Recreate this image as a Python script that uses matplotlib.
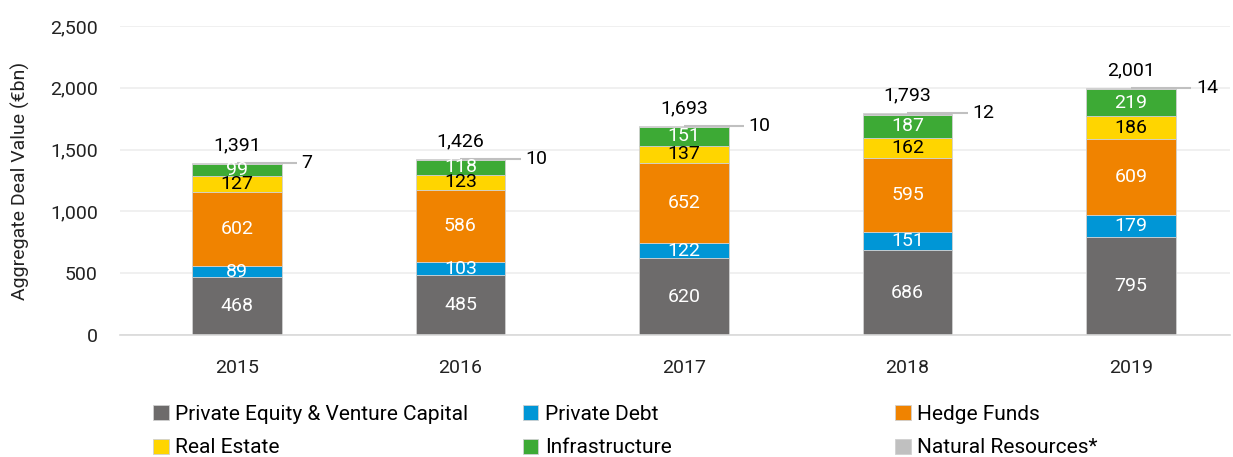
import matplotlib.pyplot as plt
import numpy as np

plt.rcParams['font.family'] = ['Roboto', 'DejaVu Sans']

years = ['2015', '2016', '2017', '2018', '2019']
private_equity = [468, 485, 620, 686, 795]
private_debt = [89, 103, 122, 151, 179]
hedge_funds = [602, 586, 652, 595, 609]
real_estate = [127, 123, 137, 162, 186]
infrastructure = [99, 118, 151, 187, 219]
natural_resources = [7, 10, 10, 12, 14]
totals = [1391, 1426, 1693, 1793, 2001]

series = [
    ('Private Equity & Venture Capital', private_equity, '#6d6b6b', 'white'),
    ('Private Debt', private_debt, '#0096d6', 'white'),
    ('Hedge Funds', hedge_funds, '#f08300', 'white'),
    ('Real Estate', real_estate, '#ffd500', 'black'),
    ('Infrastructure', infrastructure, '#3daa35', 'white'),
    ('Natural Resources*', natural_resources, '#c0c0c0', None),
]

fig = plt.figure(figsize=(12.33, 4.57), dpi=100)
ax = fig.add_axes([0.0973, 0.267, 0.9003, 0.676])

x = np.arange(len(years))
w = 0.4
fs = 14
bottom = np.zeros(len(years))
handles = {}
for name, vals, color, tcol in series:
    vals = np.array(vals, dtype=float)
    b = ax.bar(x, vals, w, bottom=bottom, color=color, edgecolor='#d0d0d0', linewidth=0.6, label=name)
    handles[name] = b
    if tcol is not None:
        for xi, v, bt in zip(x, vals, bottom):
            ax.text(xi, bt + v / 2, f'{int(v):,}', ha='center', va='center', color=tcol, fontsize=fs)
    else:
        # natural resources: thin slice, label pulled out with a leader line
        for xi, v, bt in zip(x, vals, bottom):
            top = bt + v
            ax.plot([xi, xi + w / 2 + 0.07], [top, top], color='#c0c0c0', lw=1.5, solid_capstyle='butt')
            ax.text(xi + w / 2 + 0.09, top, f'{int(v)}', ha='left', va='center', color='black', fontsize=fs)
    bottom += vals

for xi, t, bt in zip(x, totals, bottom):
    ax.text(xi, bt + 70, f'{t:,}', ha='center', va='bottom', color='black', fontsize=fs)

ax.set_xlim(-0.523, 4.443)
ax.set_ylim(0, 2500)
ax.set_yticks(np.arange(0, 2501, 500))
ax.set_yticklabels([f'{v:,}' for v in range(0, 2501, 500)])
ax.set_xticks(x)
ax.set_xticklabels(years)
ax.tick_params(axis='both', length=0, labelsize=fs, colors='#222222')
ax.tick_params(axis='x', pad=17)
ax.tick_params(axis='y', pad=16)
ax.yaxis.grid(True, color='#eeeeee', lw=1.2)
ax.set_axisbelow(True)
for s in ['top', 'right', 'left']:
    ax.spines[s].set_visible(False)
ax.spines['bottom'].set_color('#d9d9d9')
ax.spines['bottom'].set_linewidth(1.2)
ax.set_ylabel('Aggregate Deal Value (€bn)', fontsize=fs, color='#222222', labelpad=14)

groups = [
    (['Private Equity & Venture Capital', 'Real Estate'], 0.124),
    (['Private Debt', 'Infrastructure'], 0.424),
    (['Hedge Funds', 'Natural Resources*'], 0.726),
]
for names, xpos in groups:
    fig.legend([handles[n] for n in names], names, loc='upper left', bbox_to_anchor=(xpos, 0.114),
               frameon=False, fontsize=15, handlelength=0.75, handleheight=0.75, handletextpad=0.3,
               labelspacing=0.7, borderpad=0, borderaxespad=0)

fig.savefig('out.png', dpi=100)
